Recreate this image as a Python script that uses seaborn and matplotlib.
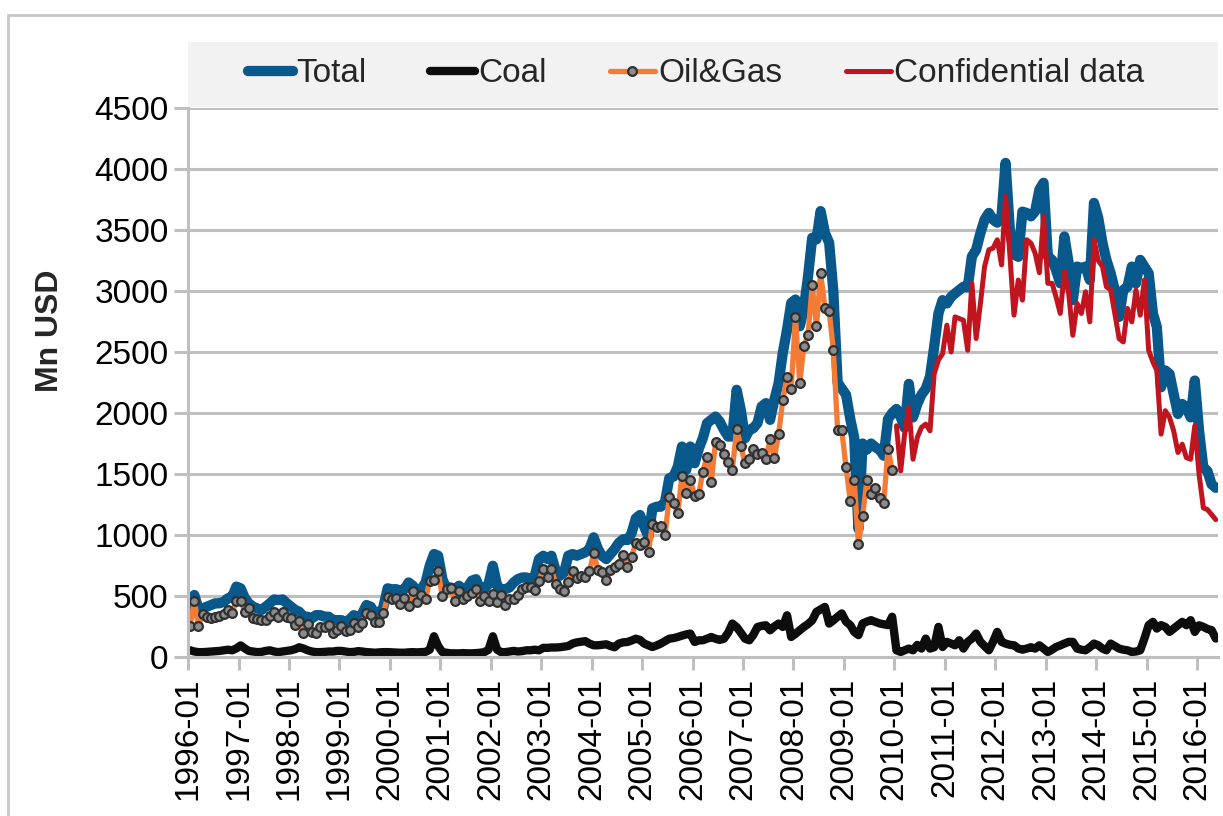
import pandas as pd
import matplotlib.pyplot as plt
import matplotlib.patches as mpatches
import seaborn as sns

# monthly values, Mn USD
total = [
    420, 508, 398, 398, 412, 426, 440, 440, 453, 481, 494, 577,           # 1996
    563, 481, 440, 412, 398, 385, 412, 440, 472, 467, 472, 440,           # 1997
    412, 385, 371, 330, 330, 316, 343, 343, 330, 330, 302, 302,           # 1998
    302, 288, 308, 343, 316, 357, 426, 412, 357, 343, 412, 563,           # 1999
    555, 556, 543, 556, 611, 584, 543, 556, 611, 748, 844, 830,           # 2000
    638, 556, 570, 556, 584, 556, 570, 625, 638, 556, 556, 600,           # 2001
    748, 584, 556, 556, 570, 611, 638, 652, 652, 638, 666, 803,           # 2002
    830, 803, 830, 707, 666, 693, 830, 844, 830, 844, 858, 885,           # 2003
    981, 885, 830, 803, 844, 885, 935, 965, 958, 1013, 1136, 1164,        # 2004
    1068, 986, 1218, 1232, 1232, 1273, 1465, 1479, 1560, 1725, 1533, 1725,  # 2005
    1588, 1711, 1793, 1917, 1944, 1971, 1930, 1862, 1807, 1807, 2190, 2026,  # 2006
    1793, 1862, 1875, 1917, 2053, 2081, 1944, 2108, 2245, 2492, 2683, 2902,  # 2007
    2930, 2711, 2848, 3121, 3436, 3423, 3655, 3477, 3395, 3000, 2250, 2200,  # 2008
    2150, 1950, 1800, 1050, 1750, 1700, 1750, 1720, 1700, 1650, 1950, 2000,  # 2009
    2033, 1964, 1880, 2239, 1964, 2074, 2150, 2198, 2300, 2541, 2816, 2925,  # 2010
    2898, 2953, 2980, 3008, 3035, 3030, 3283, 3338, 3475, 3585, 3640, 3585,  # 2011
    3560, 3620, 4050, 3500, 3300, 3280, 3650, 3640, 3612, 3653, 3832, 3887,  # 2012
    3283, 3255, 3173, 3063, 3447, 3228, 2925, 3200, 3187, 3200, 3090, 3722,  # 2013
    3600, 3392, 3255, 3145, 3008, 2788, 3008, 3035, 3200, 3063, 3255, 3200,  # 2014
    3145, 2816, 2706, 2211, 2349, 2321, 2156, 1992, 2074, 2047, 1964, 2266,  # 2015
    1854, 1552, 1525, 1415, 1387,                                         # 2016
]

coal = [
    55, 45, 40, 40, 42, 45, 48, 50, 55, 60, 55, 70,
    95, 70, 50, 45, 40, 42, 50, 55, 45, 40, 45, 50,
    55, 65, 80, 70, 55, 45, 40, 40, 42, 45, 45, 50,
    50, 45, 40, 42, 48, 45, 40, 38, 35, 38, 40, 40,
    38, 36, 35, 35, 38, 40, 38, 40, 42, 60, 170, 90,
    40, 35, 30, 30, 30, 32, 30, 30, 32, 35, 40, 60,
    170, 60, 40, 40, 45, 50, 45, 48, 55, 55, 60, 55,
    75, 75, 78, 78, 80, 85, 90, 110, 120, 125, 130, 110,
    96, 96, 100, 104, 90, 80, 110, 120, 123, 135, 150, 140,
    110, 95, 82, 95, 110, 130, 150, 155, 164, 175, 185, 192,
    123, 137, 137, 150, 164, 150, 140, 150, 200, 274, 246, 200,
    150, 137, 180, 246, 255, 260, 219, 250, 274, 246, 342, 164,
    190, 219, 246, 270, 301, 370, 390, 411, 274, 300, 330, 357,
    290, 261, 206, 179, 275, 290, 302, 288, 275, 268, 261, 330,
    55, 41, 55, 69, 55, 99, 69, 151, 69, 80, 247, 82,
    124, 110, 96, 137, 69, 124, 151, 192, 124, 90, 55, 124,
    206, 124, 110, 100, 96, 70, 60, 69, 80, 69, 96, 69,
    41, 60, 82, 95, 110, 124, 124, 69, 60, 55, 80, 110,
    96, 69, 55, 110, 90, 69, 60, 55, 41, 45, 55, 150,
    261, 288, 233, 261, 247, 206, 233, 261, 288, 261, 302, 206,
    260, 247, 230, 220, 151,
]

# 1996-01 .. 2009-12
oil_gas = [
    255, 459, 255, 352, 330, 316, 330, 335, 349, 385, 363, 459,
    461, 371, 398, 321, 310, 302, 302, 338, 371, 324, 365, 330,
    316, 261, 297, 198, 269, 203, 198, 247, 242, 261, 198, 220,
    253, 212, 220, 280, 247, 280, 357, 343, 288, 283, 363, 494,
    472, 482, 438, 482, 414, 537, 447, 510, 474, 625, 633, 701,
    496, 556, 562, 463, 537, 474, 496, 523, 556, 463, 496, 463,
    515, 447, 507, 427, 474, 474, 507, 556, 570, 570, 551, 619,
    721, 652, 721, 597, 556, 543, 611, 707, 647, 663, 655, 701,
    852, 715, 693, 633, 712, 734, 765, 834, 739, 821, 936, 917,
    945, 862, 1090, 1068, 1073, 999, 1314, 1259, 1177, 1487, 1347, 1451,
    1320, 1336, 1520, 1643, 1435, 1761, 1739, 1665, 1596, 1533, 1867, 1730,
    1588, 1626, 1703, 1665, 1670, 1621, 1785, 1629, 1829, 2103, 2292, 2199,
    2787, 2245, 2546, 2637, 3047, 2711, 3149, 2861, 2834, 2519, 1862, 1862,
    1555, 1277, 1448, 928, 1154, 1448, 1332, 1387, 1305, 1264, 1709, 1530,
]

# 2010-01 .. 2016-05
confidential = [
    1895, 1525, 1827, 2047, 1621, 1799, 1882, 1909, 1854, 2321, 2434, 2486,
    2720, 2500, 2788, 2774, 2761, 2514, 3063, 2610, 2898, 3200, 3338, 3351,
    3420, 3214, 3777, 3300, 2802, 3090, 2925, 3420, 3392, 3310, 3150, 3612,
    3063, 3063, 2953, 2816, 3159, 2980, 2637, 2898, 2816, 2994, 2747, 3420,
    3250, 3200, 3035, 3008, 2816, 2610, 2582, 2857, 2747, 3008, 2802, 3090,
    2514, 2417, 2349, 1827, 2019, 1964, 1854, 1676, 1744, 1634, 1621, 1895,
    1497, 1222, 1209, 1167, 1126,
]

months = pd.date_range('1996-01-01', periods=len(total), freq='MS')
df = pd.DataFrame({'date': months + pd.Timedelta(days=15),
                   'Total': total, 'Coal': coal})
og = df.iloc[:len(oil_gas)].assign(OG=oil_gas)
conf = df.iloc[len(oil_gas):].assign(Conf=confidential)

sns.set_theme(style='white')
plt.rcParams['font.family'] = ['Liberation Sans', 'DejaVu Sans']

fig = plt.figure(figsize=(12.23, 8.16), dpi=100)
ax = fig.add_axes([188 / 1223, 1 - 657 / 816, 1030 / 1223, 549 / 816])

grid_c = '#bfbfbf'
ax.set_ylim(0, 4500)
ax.set_yticks(range(0, 4501, 500))
ax.yaxis.grid(True, color=grid_c, linewidth=2.2)
ax.set_axisbelow(True)

round_kw = dict(solid_capstyle='round', solid_joinstyle='round', estimator=None)
sns.lineplot(data=df, x='date', y='Total', ax=ax, color='#08588c',
             linewidth=7.4, label='Total', **round_kw)
sns.lineplot(data=df, x='date', y='Coal', ax=ax, color='#0d0d0d',
             linewidth=6.0, label='Coal', **round_kw)
sns.lineplot(data=og, x='date', y='OG', ax=ax, color='#f47b36',
             linewidth=3.8, marker='o', markersize=6.3,
             markerfacecolor='#8c8c8c', markeredgecolor='#303030',
             markeredgewidth=1.6, label='Oil&Gas', **round_kw)
sns.lineplot(data=conf, x='date', y='Conf', ax=ax, color='#c0141e',
             linewidth=3.6, label='Confidential data', **round_kw)

years = pd.date_range('1996-01-01', '2016-01-01', freq='YS')
ax.set_xticks(years)
ax.set_xticklabels([d.strftime('%Y-%m') for d in years], rotation=90)
ax.set_xlim(pd.Timestamp('1996-01-01'), pd.Timestamp('2016-06-01'))

ax.set_xlabel('')
ax.set_ylabel('')
ax.tick_params(axis='both', labelsize=24, colors='black', length=0)
ax.tick_params(axis='x', length=9, width=2.2, color=grid_c, pad=6, direction='out',
               bottom=True)
ax.tick_params(axis='y', length=10, width=2.2, color=grid_c, pad=4, direction='out',
               left=True)
for side in ['top', 'right']:
    ax.spines[side].set_visible(False)
for side in ['left', 'bottom']:
    ax.spines[side].set_color(grid_c)
    ax.spines[side].set_linewidth(2.2)

fig.text(50 / 1223, 1 - 331 / 816, 'Mn USD', rotation=90, fontsize=23,
         fontweight='bold', ha='center', va='center')

# grey legend band above the plot area
fig.patches.append(mpatches.Rectangle((188 / 1223, 1 - 107 / 816), 1030 / 1223, 65 / 816,
                                      transform=fig.transFigure, facecolor='#f2f2f2',
                                      edgecolor='none', zorder=0))
# outer chart border
fig.patches.append(mpatches.Rectangle((8 / 1223, -0.05), 1.2, 1 - 15 / 816 + 0.05,
                                      transform=fig.transFigure, facecolor='none',
                                      edgecolor='#c8c8c8', linewidth=2, zorder=0))

handles, labels = ax.get_legend_handles_labels()
ax.legend_.remove()
fig.legend(handles, labels, loc='center', bbox_to_anchor=(696 / 1223, 1 - 74 / 816),
           ncol=4, frameon=False, fontsize=24, handlelength=1.35, handletextpad=0.1,
           columnspacing=1.9, numpoints=1)

fig.savefig('out.png', dpi=100)
